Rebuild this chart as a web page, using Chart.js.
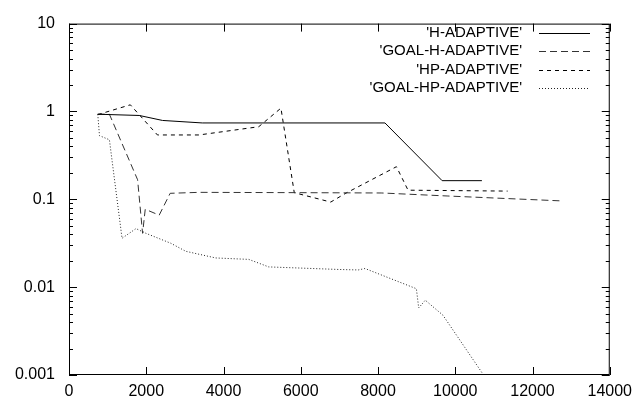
<!DOCTYPE html>
<html>
<head>
<meta charset="utf-8">
<script src="https://cdn.jsdelivr.net/npm/chart.js@4"></script>
<style>
  html, body { margin: 0; padding: 0; background: #fff; }
  #wrap { width: 639px; height: 404px; }
</style>
</head>
<body>
<div id="wrap"><canvas id="errChart"></canvas></div>
<script>
// Series (x = number of unknowns, y = error)
var seriesNames = ["'H-ADAPTIVE'", "'GOAL-H-ADAPTIVE'", "'HP-ADAPTIVE'", "'GOAL-HP-ADAPTIVE'"];

var hX = [745, 1820, 2420, 3450, 8180, 9660, 10690];
var hY = [0.93, 0.90, 0.79, 0.74, 0.74, 0.163, 0.163];

var goalHX = [745, 1046, 1776, 1905, 1974, 2335, 2619, 3366, 5943, 8100, 9810, 12730];
var goalHY = [0.93, 0.93, 0.167, 0.041, 0.077, 0.066, 0.117, 0.12, 0.119, 0.118, 0.109, 0.096];

var hpX = [745, 1588, 2290, 3366, 4912, 5487, 5832, 6776, 7147, 8477, 8778, 11356];
var hpY = [0.92, 1.19, 0.54, 0.54, 0.67, 1.09, 0.119, 0.093, 0.116, 0.235, 0.127, 0.124];

var goalHpX = [745, 789, 1046, 1373, 1734, 1992, 2636, 3023, 3796, 4655, 5170, 6974, 7490, 7662, 8993, 9054, 9224, 9680, 10700];
var goalHpY = [0.93, 0.53, 0.476, 0.036, 0.0464, 0.041, 0.0316, 0.0256, 0.0215, 0.0207, 0.0170, 0.0159, 0.0157, 0.0163, 0.0096, 0.0058, 0.0071, 0.0048, 0.00105];

var xTicks = [0, 2000, 4000, 6000, 8000, 10000, 12000, 14000];
var yTicks = [0.001, 0.01, 0.1, 1, 10];
var yTickLabels = ['0.001', '0.01', '0.1', '1', '10'];

function pairs(xs, ys) {
    return xs.map(function(x, i) { return { x: x, y: ys[i] }; });
}

// gnuplot style frame: box, inward ticks, legend at top right
var framePlugin = {
    id: 'frame',
    afterDraw: function(chart) {
        var ctx = chart.ctx;
        var a = chart.chartArea;
        var xs = chart.scales.x, ys = chart.scales.y;
        ctx.save();
        ctx.strokeStyle = '#000';
        ctx.lineWidth = 1;
        ctx.setLineDash([]);
        ctx.strokeRect(a.left + 0.5, a.top + 0.5, a.right - a.left - 1, a.bottom - a.top - 1);
        ctx.beginPath();
        xTicks.forEach(function(v) {
            var px = Math.round(xs.getPixelForValue(v)) + 0.5;
            ctx.moveTo(px, a.bottom); ctx.lineTo(px, a.bottom - 8);
            ctx.moveTo(px, a.top); ctx.lineTo(px, a.top + 8);
        });
        yTicks.forEach(function(v, k) {
            var py = Math.round(ys.getPixelForValue(v)) + 0.5;
            ctx.moveTo(a.left, py); ctx.lineTo(a.left + 8, py);
            ctx.moveTo(a.right, py); ctx.lineTo(a.right - 8, py);
            if (k < yTicks.length - 1) {
                for (var m = 2; m <= 9; m++) {
                    var q = Math.round(ys.getPixelForValue(v * m)) + 0.5;
                    ctx.moveTo(a.left, q); ctx.lineTo(a.left + 4, q);
                    ctx.moveTo(a.right, q); ctx.lineTo(a.right - 4, q);
                }
            }
        });
        ctx.stroke();

        // legend
        ctx.font = '15px "Liberation Sans", Arial, sans-serif';
        ctx.textAlign = 'right';
        ctx.textBaseline = 'middle';
        ctx.fillStyle = '#000';
        chart.data.datasets.forEach(function(ds, i) {
            var y = 33 + i * 18.3;
            ctx.fillText(ds.label, 522, y);
            ctx.strokeStyle = ds.borderColor;
            ctx.setLineDash(ds.borderDash || []);
            ctx.beginPath();
            ctx.moveTo(539, Math.round(y) + 0.5);
            ctx.lineTo(590, Math.round(y) + 0.5);
            ctx.stroke();
        });
        ctx.restore();
    }
};

var tickFont = { family: '"Liberation Sans", Arial, sans-serif', size: 16 };

new Chart(document.getElementById('errChart').getContext('2d'), {
    type: 'line',
    data: {
        datasets: [{
            label: seriesNames[0],
            data: pairs(hX, hY),
            borderColor: '#000',
            borderWidth: 1
        }, {
            label: seriesNames[1],
            data: pairs(goalHX, goalHY),
            borderColor: '#333',
            borderWidth: 1,
            borderDash: [7, 4]
        }, {
            label: seriesNames[2],
            data: pairs(hpX, hpY),
            borderColor: '#000',
            borderWidth: 1,
            borderDash: [4, 4]
        }, {
            label: seriesNames[3],
            data: pairs(goalHpX, goalHpY),
            borderColor: '#222',
            borderWidth: 1,
            borderDash: [1, 2]
        }]
    },
    options: {
        responsive: true,
        maintainAspectRatio: false,
        animation: false,
        layout: { padding: { top: 15, right: 26, left: 0, bottom: 0 } },
        elements: { point: { radius: 0 }, line: { tension: 0 } },
        scales: {
            x: {
                type: 'linear',
                min: 0,
                max: 14000,
                afterBuildTicks: function(scale) {
                    scale.ticks = xTicks.map(function(v) { return { value: v }; });
                },
                afterFit: function(scale) { scale.height = 29; },
                ticks: {
                    color: '#000',
                    font: tickFont,
                    padding: 7,
                    maxRotation: 0,
                    autoSkip: false,
                    callback: function(value) { return String(value); }
                },
                grid: { display: false, drawTicks: false },
                border: { display: false }
            },
            y: {
                type: 'logarithmic',
                min: 0.001,
                max: 10,
                afterBuildTicks: function(scale) {
                    scale.ticks = yTicks.map(function(v) { return { value: v }; });
                },
                afterFit: function(scale) { scale.width = 69; },
                ticks: {
                    color: '#000',
                    font: tickFont,
                    padding: 14,
                    autoSkip: false,
                    callback: function(value) {
                        var k = yTicks.indexOf(value);
                        return k >= 0 ? yTickLabels[k] : '';
                    }
                },
                grid: { display: false, drawTicks: false },
                border: { display: false }
            }
        },
        plugins: {
            legend: { display: false },
            tooltip: { enabled: false }
        }
    },
    plugins: [framePlugin]
});
</script>
</body>
</html>
